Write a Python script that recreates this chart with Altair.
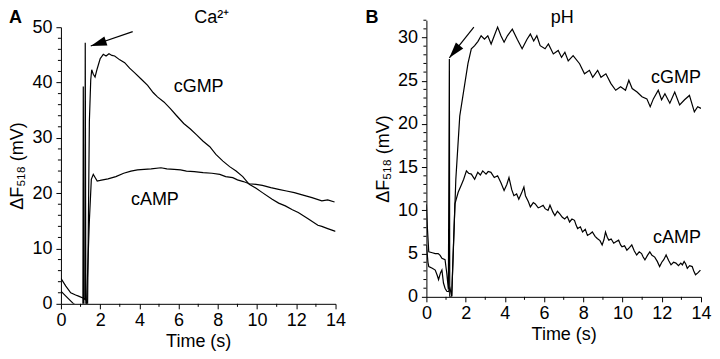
import altair as alt
import pandas as pd

FONT = "Liberation Sans"

# ---------------- Panel A (Ca2+) ----------------
a_cgmp_t = [0, 0.25, 0.5, 0.75, 0.9, 1.15, 1.22, 1.24, 1.27, 1.36, 1.45, 1.52, 1.57, 1.65, 1.74,
            1.85, 2.0, 2.16, 2.3, 2.45, 2.6, 2.74, 3.0, 3.25, 3.5, 3.75, 4.1, 4.42, 4.7, 4.92,
            5.25, 5.58, 5.9, 6.26, 6.6, 6.93, 7.25, 7.59, 7.9, 8.26, 8.6, 8.93, 9.27, 9.6,
            9.95, 10.27, 10.77, 11.1, 11.44, 11.8, 12.1, 12.6, 13.1, 13.3, 13.6, 14.0]
a_cgmp_v = [4.6, 3.2, 2.0, 1.6, 1.4, 1.0, 0.8, 47.2, 0.0, 0.0, 33.0, 40.5, 42.3, 41.5, 41.0,
            42.5, 44.3, 45.1, 44.8, 45.2, 44.9, 44.8, 44.1, 43.6, 42.6, 41.8, 40.6, 39.5, 38.2, 37.4,
            36.5, 35.3, 34.0, 32.6, 31.6, 30.5, 29.4, 28.4, 27.0, 25.8, 24.8, 24.0, 23.0, 21.6,
            20.9, 20.1, 18.9, 18.2, 17.7, 17.0, 16.5, 15.4, 14.2, 14.0, 13.6, 13.1]

a_camp_t = [0, 0.25, 0.65, 0.9, 1.12, 1.14, 1.17, 1.3, 1.45, 1.55, 1.65, 1.75, 1.85, 2.0, 2.4,
            2.8, 3.2, 3.57, 3.9, 4.24, 4.6, 5.1, 5.4, 5.77, 6.1, 6.4, 6.8, 7.25, 7.7, 8.1, 8.4,
            8.76, 9.0, 9.3, 9.6, 9.95, 10.27, 10.7, 11.1, 11.5, 11.9, 12.3, 12.8, 13.3, 13.6, 13.95]
a_camp_v = [2.3, 1.4, 0.0, -0.6, -0.8, 39.3, -0.5, -0.5, 15.0, 22.5, 23.4, 22.8, 22.2, 22.3, 22.6,
            23.0, 23.6, 24.0, 24.2, 24.3, 24.4, 24.6, 24.4, 24.3, 24.2, 24.0, 23.9, 23.7, 23.6, 23.4, 23.0,
            22.8, 22.4, 22.1, 21.7, 21.6, 21.4, 21.0, 20.7, 20.4, 20.1, 19.7, 19.2, 18.6, 18.8, 18.4]

# ---------------- Panel B (pH) ----------------
b_cgmp_t = [0, 0.05, 0.12, 0.3, 0.45, 0.6, 0.7, 0.79, 0.95, 1.04, 1.12, 1.17, 1.19, 1.29, 1.5,
            1.7, 1.96, 2.12, 2.29, 2.46, 2.63, 2.79, 2.96, 3.13, 3.30, 3.46, 3.63, 3.80, 3.96,
            4.13, 4.38, 4.63, 4.88, 5.13, 5.30, 5.47, 5.63, 5.80, 6.05, 6.22, 6.47, 6.72, 6.89,
            7.06, 7.23, 7.48, 7.81, 8.06, 8.31, 8.48, 8.73, 8.90, 9.15, 9.40, 9.65, 9.90, 10.15,
            10.32, 10.49, 10.74, 10.99, 11.24, 11.41, 11.57, 11.82, 11.99, 12.16, 12.41, 12.66,
            12.91, 13.16, 13.41, 13.66, 13.83, 14.0]
b_cgmp_v = [10.7, 8.0, 5.2, 5.1, 5.0, 5.0, 4.8, 4.46, 4.3, 2.7, 0.84, 27.5, 0.0, 0.0, 13.6,
            20.9, 24.7, 27.0, 28.7, 29.06, 29.56, 30.2, 29.8, 30.2, 29.25, 30.2, 31.2, 30.2, 29.45,
            30.2, 30.97, 29.8, 28.7, 29.8, 30.4, 29.6, 30.2, 29.06, 28.7, 29.25, 28.1, 28.5, 27.7,
            28.3, 27.3, 27.9, 26.97, 25.8, 26.2, 25.4, 26.2, 25.4, 25.8, 24.7, 23.9, 24.3, 23.9,
            25.06, 24.1, 23.7, 23.15, 22.9, 22.0, 22.9, 23.9, 22.8, 23.5, 22.4, 23.7,
            22.2, 22.8, 23.3, 21.4, 22.0, 21.8]

b_camp_t = [0, 0.08, 0.12, 0.3, 0.45, 0.55, 0.62, 0.72, 0.79, 0.87, 0.95, 1.04, 1.12, 1.2, 1.29,
            1.38, 1.455, 1.62, 1.79, 1.9, 2.04, 2.15, 2.29, 2.46, 2.62, 2.75, 2.87, 3.04, 3.15,
            3.29, 3.46, 3.63, 3.80, 3.96, 4.1, 4.21, 4.35, 4.46, 4.6, 4.71, 4.85, 4.97, 5.05,
            5.2, 5.30, 5.45, 5.55, 5.7, 5.80, 5.95, 6.05, 6.2, 6.30, 6.45, 6.55, 6.68, 6.8,
            6.93, 7.05, 7.18, 7.3, 7.42, 7.55, 7.63, 7.71, 7.85, 7.96, 8.1, 8.21, 8.35, 8.46,
            8.6, 8.71, 8.85, 8.96, 9.05, 9.13, 9.22, 9.30, 9.42, 9.55, 9.68, 9.8, 9.9, 9.97,
            10.1, 10.22, 10.35, 10.47, 10.6, 10.72, 10.85, 10.97, 11.05, 11.14, 11.27, 11.39,
            11.5, 11.64, 11.77, 11.89, 12.0, 12.1, 12.22, 12.35, 12.47, 12.6, 12.72, 12.85,
            12.97, 13.05, 13.14, 13.22, 13.3, 13.42, 13.55, 13.63, 13.72, 13.85, 13.97]
b_camp_v = [6.0, 4.0, 3.5, 3.3, 3.1, 2.5, 2.0, 2.8, 3.1, 1.6, 1.0, 0.65, 0.6, 1.0, 0.1,
            6.0, 10.75, 12.1, 13.0, 13.6, 14.57, 14.3, 14.2, 13.6, 14.4, 14.1, 14.57, 14.2, 14.5,
            14.4, 13.8, 14.0, 13.2, 12.3, 13.0, 13.8, 12.4, 11.7, 11.9, 11.3, 12.0, 12.7, 11.7,
            11.0, 10.4, 10.9, 10.75, 10.3, 10.4, 10.6, 10.2, 10.0, 10.6, 9.8, 9.4, 9.9, 9.6,
            9.2, 9.0, 9.3, 8.66, 9.0, 8.85, 8.3, 7.9, 8.1, 7.5, 7.8, 7.1, 7.3, 7.5,
            7.0, 6.75, 6.5, 6.0, 6.6, 7.5, 6.9, 6.56, 6.7, 6.2, 6.4, 6.56, 6.0, 5.8,
            5.9, 5.4, 5.7, 6.0, 5.3, 4.84, 5.2, 5.0, 4.6, 4.27, 4.8, 5.2,
            4.8, 4.6, 4.1, 3.5, 4.0, 4.3, 4.84, 4.2, 3.7, 4.0, 3.9, 3.6,
            3.9, 3.7, 4.1, 3.8, 3.3, 3.6, 3.5, 3.0, 2.55, 2.8, 3.1]

# axis ticks
x_major = [0, 2, 4, 6, 8, 10, 12, 14]
x_minor = [1, 3, 5, 7, 9, 11, 13]
a_y_major = [0, 10, 20, 30, 40, 50]
a_y_minor = [2, 4, 6, 8, 12, 14, 16, 18, 22, 24, 26, 28, 32, 34, 36, 38, 42, 44, 46, 48]
b_y_major = [0, 5, 10, 15, 20, 25, 30]
b_y_minor = [1, 2, 3, 4, 6, 7, 8, 9, 11, 12, 13, 14, 16, 17, 18, 19, 21, 22, 23, 24,
             26, 27, 28, 29, 31, 32]

# series labels (data coordinates)
a_labels = {"text": ["cGMP", "cAMP"], "t": [7.02, 4.79], "v": [38.2, 17.9]}
b_labels = {"text": ["cGMP", "cAMP"], "t": [14.0, 14.0], "v": [24.7, 6.2]}

# arrows (tail -> tip, data coordinates)
a_arrow = {"t": [3.66], "v": [49.2], "t2": [1.52], "v2": [46.6], "angle": [251.5]}
b_arrow = {"t": [2.42], "v": [31.2], "t2": [1.17], "v2": [27.65], "angle": [219.8]}

ARROW_PATH = "M0,0L-0.6,2L0.6,2Z"
W = 275
HB = 277
A_OFF = 7


def lines_df(t1, v1, t2, v2):
    rows = []
    for i, (t, v) in enumerate(zip(t1, v1)):
        rows.append({"t": t, "v": v, "s": "cGMP", "i": i})
    for i, (t, v) in enumerate(zip(t2, v2)):
        rows.append({"t": t, "v": v, "s": "cAMP", "i": i})
    return pd.DataFrame(rows)


def panel(df, ymax, y_major, y_minor, H, y_top, labels, arrow, letter, letter_xy,
          title, title_xy, label_align):
    xaxis = alt.Axis(title="Time (s)", values=x_major, labelFlush=False, labelOverlap=False,
                     grid=False, titlePadding=3, labelPadding=3, tickSize=5)
    yaxis = alt.Axis(title="ΔF₅₁₈ (mV)", values=y_major, labelFlush=False, labelOverlap=False,
                     grid=False, titlePadding=5, labelPadding=4, tickSize=5)
    xs = alt.Scale(domain=[0, 14], nice=False)
    ys = alt.Scale(domain=[0, ymax], nice=False, range=[H, y_top])

    def X(f):
        return alt.X(f, scale=xs, axis=xaxis)

    def Y(f):
        return alt.Y(f, scale=ys, axis=yaxis)

    lines = alt.Chart(df).mark_line(color="black", strokeWidth=1.2, clip=True).encode(
        x=X("t:Q"), y=Y("v:Q"), detail="s:N", order="i:Q",
    )
    lab = alt.Chart(pd.DataFrame(labels)).mark_text(
        font=FONT, fontSize=18, align=label_align, baseline="alphabetic", color="black"
    ).encode(x=X("t:Q"), y=Y("v:Q"), text="text:N")
    arr_line = alt.Chart(pd.DataFrame(arrow)).mark_rule(color="black", strokeWidth=1.2).encode(
        x=X("t:Q"), y=Y("v:Q"), x2="t2:Q", y2="v2:Q"
    )
    arr_head = alt.Chart(pd.DataFrame(arrow)).mark_point(
        shape=ARROW_PATH, filled=True, color="black", size=256, opacity=1, strokeWidth=0
    ).encode(x=X("t2:Q"), y=Y("v2:Q"), angle=alt.Angle("angle:Q", scale=None))
    xminor = alt.Chart(pd.DataFrame({"t": x_minor})).mark_rule(color="black", strokeWidth=1).encode(
        x=X("t:Q"), y=alt.value(H), y2=alt.value(H + 3)
    )
    yminor = alt.Chart(pd.DataFrame({"v": y_minor})).mark_rule(color="black", strokeWidth=1).encode(
        y=Y("v:Q"), x=alt.value(-3), x2=alt.value(0)
    )
    let = alt.Chart(pd.DataFrame({"text": [letter]})).mark_text(
        font=FONT, fontSize=18, fontWeight="bold", align="left", baseline="top", color="black"
    ).encode(x=alt.value(letter_xy[0]), y=alt.value(letter_xy[1]), text="text:N")
    ttl = alt.Chart(pd.DataFrame({"text": [title]})).mark_text(
        font=FONT, fontSize=18, align="center", baseline="top", color="black"
    ).encode(x=alt.value(title_xy[0]), y=alt.value(title_xy[1]), text="text:N")

    return alt.layer(lines, lab, arr_line, arr_head, xminor, yminor, let, ttl).properties(
        width=W, height=H)


pa = panel(lines_df(a_cgmp_t, a_cgmp_v, a_camp_t, a_camp_v), 50, a_y_major, a_y_minor,
           HB + A_OFF, A_OFF, a_labels, a_arrow, "A", (-52, -11), "Ca²⁺", (151, -11), "center")
pb = panel(lines_df(b_cgmp_t, b_cgmp_v, b_camp_t, b_camp_v), 32, b_y_major, b_y_minor,
           HB, 0, b_labels, b_arrow, "B", (-61, -11), "pH", (136, -11), "right")

chart = alt.hconcat(pa, pb, spacing=18).properties(
    padding={"left": 0, "top": 0, "right": 0, "bottom": 0}
).configure_view(stroke="transparent").configure_axis(
    labelFont=FONT, titleFont=FONT, labelFontSize=18, titleFontSize=18,
    titleFontWeight="normal", labelColor="black", titleColor="black",
    domainColor="black", tickColor="black", domainWidth=1, tickWidth=1,
)

chart.save("out.html", embed_options={"renderer": "svg", "actions": False})
